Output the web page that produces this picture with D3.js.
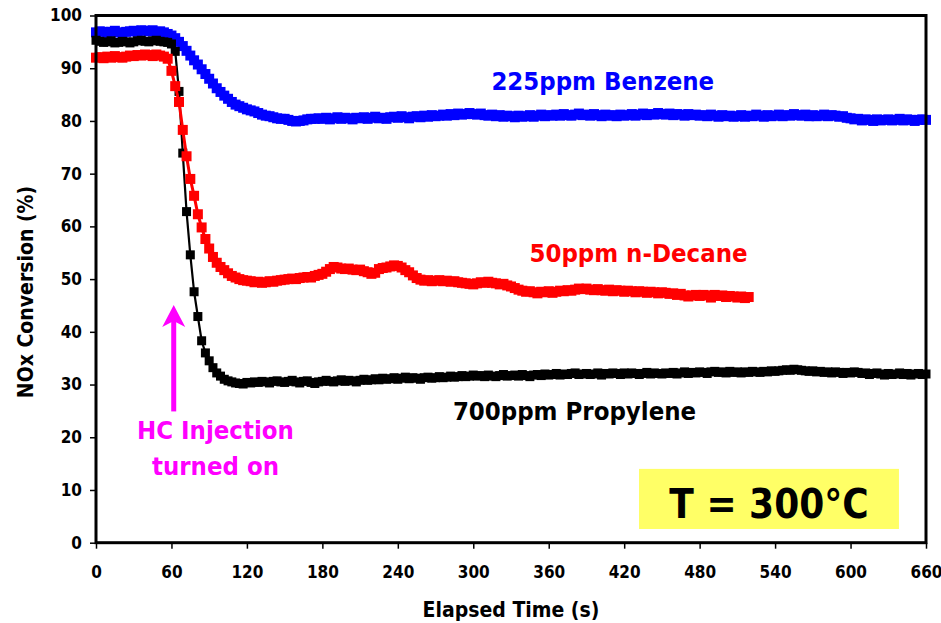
<!DOCTYPE html>
<html>
<head>
<meta charset="utf-8">
<script src="https://cdn.jsdelivr.net/npm/d3@7"></script>
<style>
  html, body { margin: 0; padding: 0; background: #ffffff; }
  svg { display: block; }
  text { font-family: "DejaVu Sans Condensed", "DejaVu Sans", sans-serif; font-weight: bold; font-stretch: condensed; }
</style>
</head>
<body>
<svg id="chart" width="941" height="623"></svg>
<script>
// Sampling interval of the logger (seconds between readings)
const SAMPLE_STEP = 3;

// Axis ticks
const xTicks = [0, 60, 120, 180, 240, 300, 360, 420, 480, 540, 600, 660];
const yTicks = [0, 10, 20, 30, 40, 50, 60, 70, 80, 90, 100];

// NOx conversion (%) with 225 ppm benzene, readings from t = 0 s
const benzene = [
  96.8, 97.0, 96.9, 96.7, 96.9, 97.1, 96.8, 96.7, 96.9, 97.0,
  97.1, 96.9, 97.2, 97.1, 97.0, 97.2, 96.9, 97.0, 96.8, 96.5,
  96.2, 95.7, 95.0, 94.2, 93.3, 92.4, 91.5, 90.7, 89.8, 88.9,
  88.0, 87.1, 86.2, 85.5, 84.8, 84.2, 83.6, 83.1, 82.8, 82.5,
  82.2, 82.0, 81.8, 81.5, 81.2, 81.0, 80.9, 80.7, 80.5, 80.4,
  80.4, 80.2, 80.0, 79.9, 80.0, 80.1, 80.3, 80.4, 80.4, 80.5,
  80.4, 80.6, 80.3, 80.5, 80.7, 80.4, 80.6, 80.5, 80.3, 80.6,
  80.5, 80.7, 80.4, 80.6, 80.8, 80.5, 80.6, 80.4, 80.7, 80.8,
  80.6, 80.9, 80.7, 80.5, 80.8, 80.9, 80.7, 81.0, 80.8, 81.1,
  80.9, 81.0, 81.2, 81.0, 81.3, 81.1, 81.4, 81.2, 81.3, 81.5,
  81.3, 81.2, 81.4, 81.1, 81.0, 81.2, 80.9, 81.1, 80.8, 81.0,
  80.9, 80.7, 81.0, 80.8, 80.9, 81.1, 80.8, 81.0, 81.2, 80.9,
  81.1, 81.0, 81.2, 81.0, 81.3, 81.1, 81.0, 81.2, 81.4, 81.1,
  81.2, 81.0, 81.3, 81.1, 80.9, 81.2, 81.0, 81.1, 80.9, 81.2,
  81.0, 81.1, 81.3, 81.0, 81.2, 81.4, 81.1, 81.3, 81.2, 81.5,
  81.3, 81.2, 81.4, 81.1, 81.3, 81.2, 81.0, 81.3, 81.1, 81.2,
  81.0, 81.1, 80.9, 81.2, 81.0, 80.8, 81.1, 80.9, 81.0, 80.8,
  80.9, 81.1, 80.8, 81.0, 80.9, 81.2, 81.0, 80.8, 81.1, 80.9,
  81.0, 81.2, 80.9, 81.1, 81.0, 81.3, 81.1, 81.0, 81.2, 80.9,
  81.1, 80.9, 81.0, 81.2, 80.9, 81.1, 81.0, 80.8, 80.9, 80.6,
  80.5, 80.3, 80.4, 80.1, 80.3, 80.2, 80.0, 80.3, 80.1, 80.2,
  80.3, 80.1, 80.2, 80.4, 80.1, 80.3, 80.2, 80.0, 80.2, 80.3,
  80.2
];

// NOx conversion (%) with 700 ppm propylene
const propylene = [
  95.3, 95.1, 94.9, 95.0, 95.2, 94.8, 94.9, 95.1, 95.0, 94.8,
  95.0, 95.2, 95.3, 95.1, 95.0, 95.2, 95.3, 95.1, 95.0, 94.9,
  94.6, 93.2, 85.6, 73.9, 62.8, 54.6, 47.6, 42.9, 38.3, 36.0,
  34.5, 33.2, 32.2, 31.6, 31.0, 30.7, 30.5, 30.3, 30.2, 30.1,
  30.4,
  30.3, 30.5, 30.4, 30.6, 30.5, 30.3, 30.6, 30.7, 30.5, 30.4,
  30.6, 30.8, 30.5, 30.3, 30.6, 30.7, 30.4, 30.2, 30.5, 30.6,
  30.8, 30.6, 30.5, 30.7, 30.9, 30.6, 30.8, 30.7, 30.5, 30.8,
  31.0, 30.8, 30.9, 31.1, 30.9, 31.2, 31.0, 31.1, 31.3, 31.0,
  31.2, 31.4, 31.1, 31.3, 31.2, 31.0, 31.3, 31.4, 31.2, 31.3,
  31.5, 31.3, 31.4, 31.6, 31.4, 31.5, 31.7, 31.5, 31.6, 31.8,
  31.6, 31.7, 31.5, 31.8, 31.6, 31.5, 31.7, 31.9, 31.6, 31.7,
  31.8, 31.6, 31.9, 31.7, 31.5, 31.8, 31.9, 31.7, 32.0, 31.8,
  31.9, 32.1, 31.8, 32.0, 31.9, 32.1, 32.2, 31.9, 32.0, 32.1,
  31.9, 32.0, 32.2, 31.8, 32.1, 32.0, 32.2, 32.1, 31.9, 32.2,
  32.0, 32.2, 32.1, 31.9, 32.1, 32.3, 32.0, 32.2, 32.1, 32.0,
  32.2, 32.1, 32.3, 32.0, 32.2, 32.4, 32.1, 32.3, 32.2, 32.4,
  32.3, 32.1, 32.4, 32.5, 32.3, 32.4, 32.2, 32.5, 32.3, 32.4,
  32.2, 32.4, 32.3, 32.5, 32.4, 32.3, 32.5, 32.4, 32.6, 32.5,
  32.6, 32.7, 32.8, 32.7, 32.9, 32.8, 32.7, 32.6, 32.5, 32.6,
  32.4, 32.5, 32.3, 32.4, 32.2, 32.4, 32.3, 32.1, 32.3, 32.2,
  32.4, 32.3, 32.1, 32.2, 31.9, 32.1, 32.2, 32.0, 31.8, 32.1,
  31.9, 32.0, 32.2, 31.9, 32.1, 31.8, 32.0, 32.1, 31.9, 32.0
];

// NOx conversion (%) with 50 ppm n-decane (run ends at 519 s)
const decane = [
  92.0, 92.1, 91.9, 92.2, 92.0, 92.3, 92.1, 92.0, 92.2, 92.4,
  92.3, 92.5, 92.4, 92.6, 92.5, 92.3, 92.6, 92.4, 92.2, 91.8,
  89.5, 86.6, 83.6, 78.3, 73.3, 69.0, 65.8, 62.3, 59.8, 57.6,
  55.8, 54.2, 53.1, 52.3, 51.7, 51.1, 50.6, 50.3, 50.0, 49.8,
  49.7, 49.6, 49.4, 49.5, 49.3, 49.4, 49.6, 49.5, 49.7, 49.8,
  49.9, 50.0, 50.1, 50.0, 50.2, 50.3, 50.4, 50.3, 50.6, 50.8,
  51.0, 51.4, 51.9, 52.3, 52.2, 52.0, 51.9, 52.0, 51.8, 51.7,
  51.8, 51.5, 51.3, 51.0, 51.2, 51.9, 52.1, 52.2, 52.4, 52.6,
  52.5, 52.2, 51.7, 51.3, 50.7, 50.2, 49.9, 49.7, 49.8, 49.6,
  49.7, 49.8, 49.6, 49.7, 49.5, 49.6, 49.4, 49.3, 49.2, 49.1,
  49.0, 49.2, 49.4, 49.3, 49.5, 49.3, 49.2, 49.0, 49.1, 48.8,
  48.6, 48.3, 48.0, 47.8, 47.6, 47.7, 47.5, 47.3, 47.6, 47.5,
  47.7, 47.4, 47.6, 47.8, 47.7, 47.9, 47.8, 48.0, 48.2, 48.1,
  48.2, 48.0, 47.9, 48.1, 47.9, 47.8, 48.0, 47.7, 47.9, 47.8,
  47.6, 47.8, 47.7, 47.5, 47.7, 47.6, 47.4, 47.6, 47.5, 47.3,
  47.5, 47.4, 47.2, 47.3, 47.0, 47.2, 46.9, 46.7, 46.9, 47.0,
  46.8, 47.0, 46.9, 46.5, 47.0, 46.8, 46.9, 46.6, 46.8, 46.7,
  46.5, 46.7, 46.4, 46.6
];

// Series, drawn back to front
const seriesNames = ["225ppm Benzene", "700ppm Propylene", "50ppm n-Decane"];
const seriesValues = [benzene, propylene, decane];
const seriesColors = ["#0000ff", "#000000", "#ff0000"];
const seriesLineWidths = [3, 2.2, 3];
const seriesMarkerSizes = [10, 9, 10];

// Annotation text and the injection marker (time in s, conversion range in %)
const injectionLabel = ["HC Injection", "turned on"];
const injectionArrow = { t: 61.8, from: 24.9, to: 45.1 };
const temperatureLabel = "T = 300°C";

const svg = d3.select("#chart");
const plot = { left: 96, right: 926, top: 15.5, bottom: 542.7 };

const x = d3.scaleLinear().domain([0, 660]).range([plot.left, plot.right]);
const y = d3.scaleLinear().domain([0, 100]).range([plot.bottom, plot.top]);

// Axes
const xAxis = svg.append("g")
  .attr("transform", `translate(0,${plot.bottom})`)
  .call(d3.axisBottom(x).tickValues(xTicks).tickSize(6).tickPadding(17).tickFormat(d3.format("d")));
xAxis.select(".domain").remove();

const yAxis = svg.append("g")
  .attr("transform", `translate(${plot.left},0)`)
  .call(d3.axisLeft(y).tickValues(yTicks).tickSize(6).tickPadding(8).tickFormat(d3.format("d")));
yAxis.select(".domain").remove();

svg.selectAll(".tick line").attr("stroke", "#000").attr("stroke-width", 1.5);
svg.selectAll(".tick text").attr("font-size", 17).attr("fill", "#000");
svg.selectAll("g").attr("font-family", null).attr("font-size", null);

// Temperature box
const box = { t0: 431.8, t1: 638.5, v0: 2.6, v1: 14.0 };
svg.append("rect")
  .attr("x", x(box.t0)).attr("y", y(box.v1))
  .attr("width", x(box.t1) - x(box.t0)).attr("height", y(box.v0) - y(box.v1))
  .attr("fill", "#ffff66");
svg.append("text")
  .attr("x", x((box.t0 + box.t1) / 2)).attr("y", y(4.6))
  .attr("text-anchor", "middle").attr("font-size", 40).attr("fill", "#000")
  .text(temperatureLabel);

// Data series: connecting line plus square markers
const line = d3.line().x((d, i) => x(i * SAMPLE_STEP)).y(d => y(d));
seriesValues.forEach((vals, k) => {
  const s = seriesMarkerSizes[k];
  const g = svg.append("g").attr("class", "series");
  g.append("path")
    .attr("d", line(vals))
    .attr("fill", "none")
    .attr("stroke", seriesColors[k])
    .attr("stroke-width", seriesLineWidths[k])
    .attr("stroke-linejoin", "round");
  g.selectAll("rect").data(vals).join("rect")
    .attr("x", (d, i) => x(i * SAMPLE_STEP) - s / 2)
    .attr("y", d => y(d) - s / 2)
    .attr("width", s).attr("height", s)
    .attr("fill", seriesColors[k]);
});

// Plot frame
svg.append("rect")
  .attr("x", plot.left).attr("y", plot.top)
  .attr("width", plot.right - plot.left).attr("height", plot.bottom - plot.top)
  .attr("fill", "none").attr("stroke", "#000").attr("stroke-width", 3);

// Series labels
const labelPos = [
  { t: 403, v: 85.8 },
  { t: 380.5, v: 23.3 },
  { t: 431.4, v: 53.3 }
];
seriesNames.forEach((name, k) => {
  svg.append("text")
    .attr("x", x(labelPos[k].t)).attr("y", y(labelPos[k].v))
    .attr("text-anchor", "middle").attr("font-size", 25.5)
    .attr("fill", seriesColors[k])
    .text(name);
});

// Injection arrow and note
const magenta = "#ff00ff";
const ax = x(injectionArrow.t);
const tipY = y(injectionArrow.to);
svg.append("line")
  .attr("x1", ax).attr("x2", ax)
  .attr("y1", y(injectionArrow.from)).attr("y2", tipY + 14)
  .attr("stroke", magenta).attr("stroke-width", 5);
svg.append("path")
  .attr("d", `M${ax},${tipY} L${ax + 11.5},${tipY + 22} L${ax},${tipY + 16} L${ax - 11.5},${tipY + 22} Z`)
  .attr("fill", magenta);
injectionLabel.forEach((txt, i) => {
  svg.append("text")
    .attr("x", x(95)).attr("y", y(i === 0 ? 19.6 : 12.85))
    .attr("text-anchor", "middle").attr("font-size", 25.5)
    .attr("fill", magenta)
    .text(txt);
});

// Axis titles
svg.append("text")
  .attr("x", (plot.left + plot.right) / 2).attr("y", 617)
  .attr("text-anchor", "middle").attr("font-size", 21).attr("fill", "#000")
  .text("Elapsed Time (s)");
svg.append("text")
  .attr("transform", "translate(33,292) rotate(-90)")
  .attr("text-anchor", "middle").attr("font-size", 21).attr("fill", "#000")
  .text("NOx Conversion (%)");
</script>
</body>
</html>
